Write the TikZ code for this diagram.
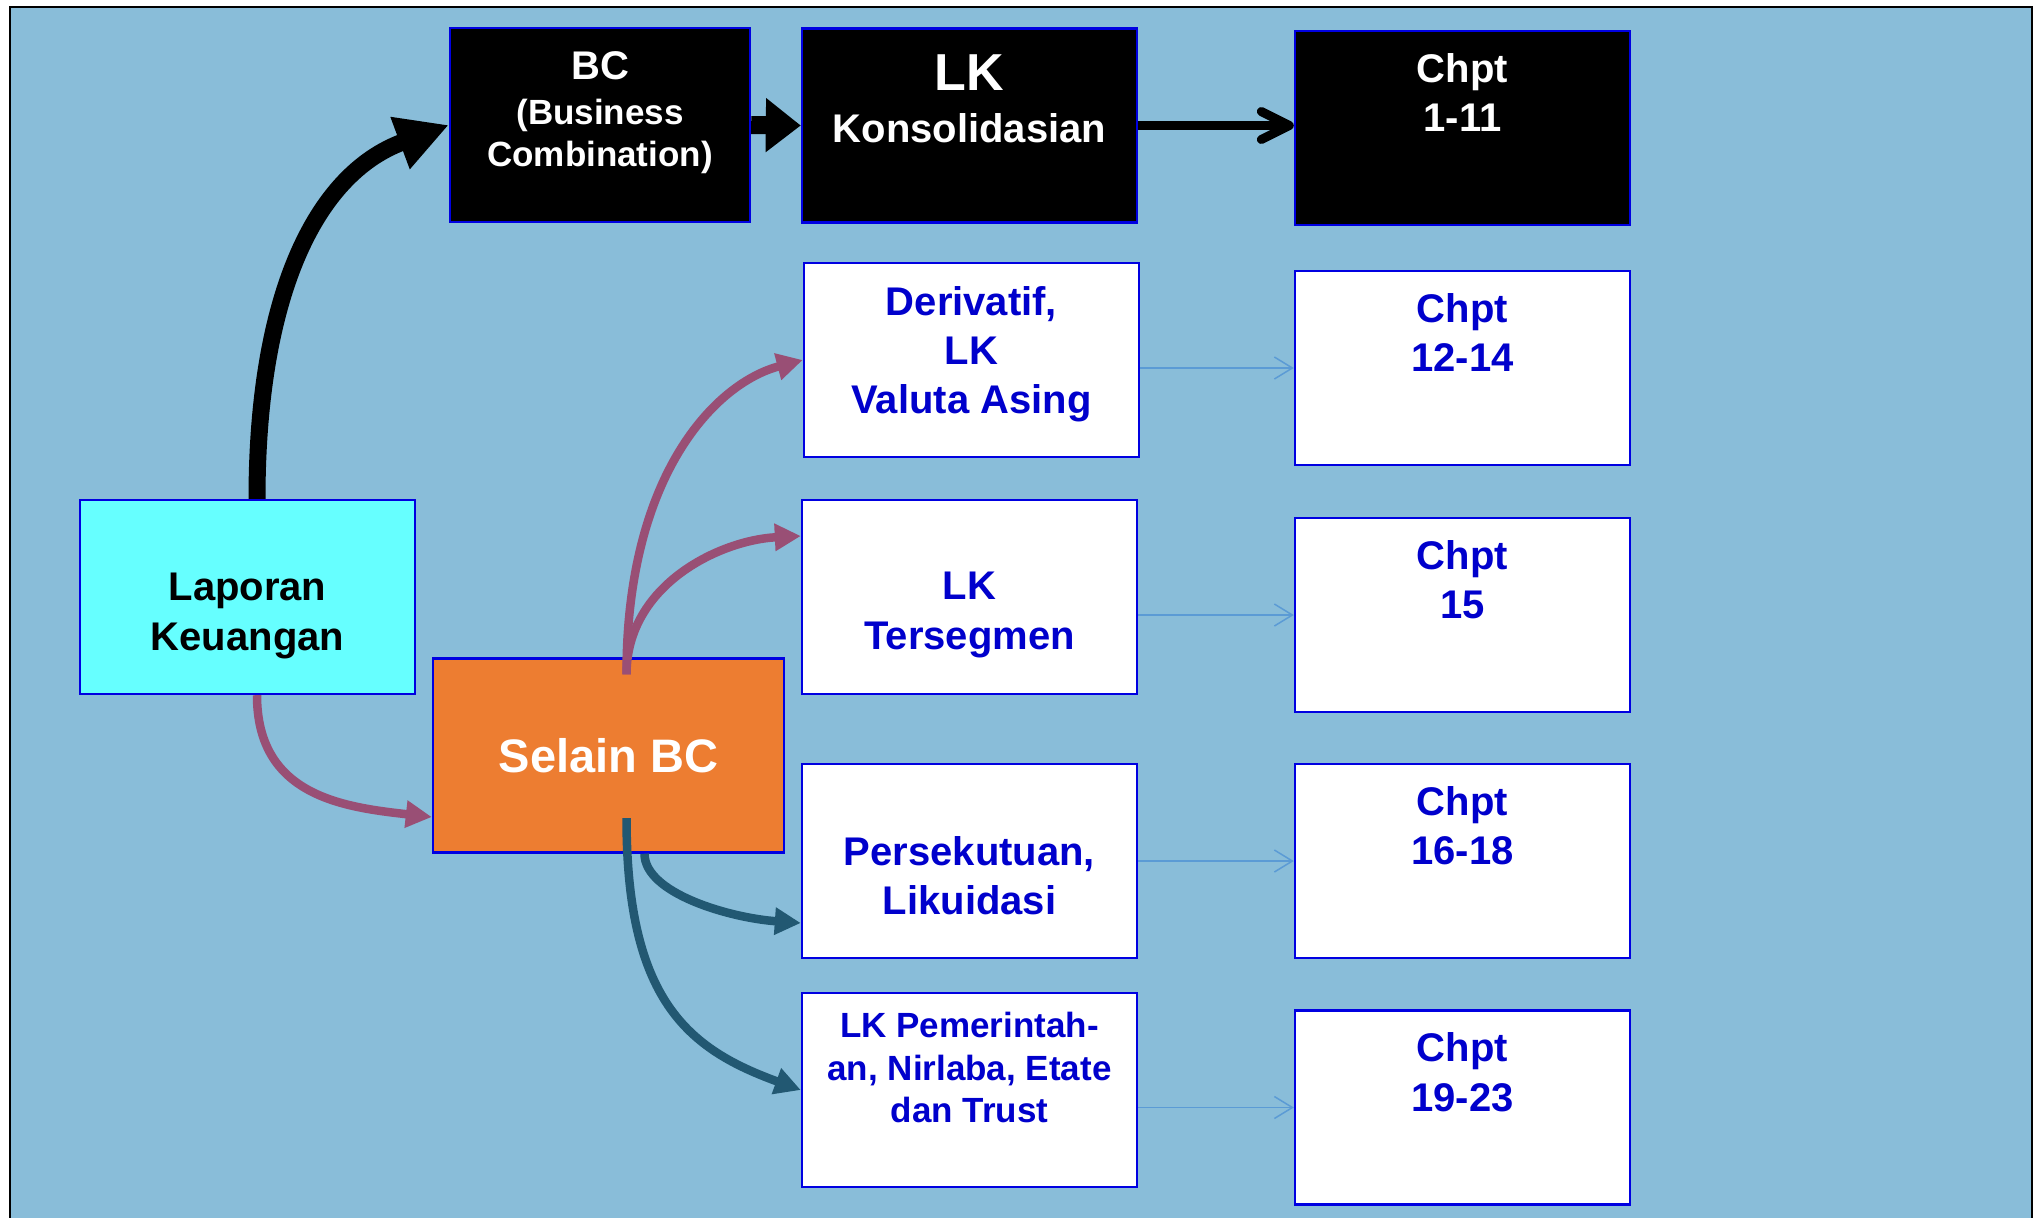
\documentclass[tikz,border=0pt]{standalone}
\usepackage{fontspec}
\setmainfont{Liberation Sans}
\usetikzlibrary{arrows.meta}
\definecolor{bgblue}{RGB}{137,189,217}
\definecolor{edgeblue}{RGB}{0,0,225}
\definecolor{txtblue}{RGB}{0,0,204}
\definecolor{cyanfill}{RGB}{102,255,255}
\definecolor{orangefill}{RGB}{237,125,49}
\definecolor{mauve}{RGB}{153,79,117}
\definecolor{tealline}{RGB}{34,88,114}
\definecolor{thinblue}{RGB}{91,155,213}
\tikzset{
        box/.style={draw=edgeblue, line width=1.2pt, minimum width=167.5pt, minimum height=97pt, inner sep=0pt},
        darkbox/.style={box, fill=black},
        whitebox/.style={box, fill=white},
        txt/.style={anchor=north, inner sep=0pt, align=center, font=\bfseries\fontsize{20}{24.7}\selectfont},
        whitetxt/.style={txt, text=white},
        bluetxt/.style={txt, text=txtblue},
        bigarr/.style={line width=8.5pt, -{Triangle[length=26pt,width=26pt]}},
        flatarr/.style={line width=9pt, -{Triangle[length=17.5pt,width=26pt]}},
        barbarr/.style={line width=4.5pt, -{Straight Barb[length=14pt,width=14pt,round]}},
        thinarr/.style={draw=thinblue, line width=0.75pt, -{Straight Barb[length=9pt,width=11pt]}},
        pinkarr/.style={draw=mauve, line width=4.25pt, -{Triangle[length=13pt,width=13pt]}},
        tealarr/.style={draw=tealline, line width=4.25pt, -{Triangle[length=13pt,width=13pt]}}
          }
\begin{document}
\begin{tikzpicture}[x=0.5pt, y=-0.5pt]
        \useasboundingbox (0,0) rectangle (2038,1217);
        \clip (0,0) rectangle (2038,1217);
        \draw[line width=1pt, fill=bgblue] (10,7) rectangle (2032,1240);

        % boxes
        \node[darkbox, minimum width=150pt] (bc) at (600,125) {};
        \node[darkbox] (lk) at (969.5,125.5) {};
        \node[darkbox] (c1) at (1462.5,128) {};
        \node[whitebox] (dv) at (971.5,360) {};
        \node[whitebox] (c2) at (1462.5,368) {};
        \node[whitebox] (sg) at (969.5,597) {};
        \node[whitebox] (c3) at (1462.5,615) {};
        \node[whitebox] (ps) at (969.5,861) {};
        \node[whitebox] (c4) at (1462.5,861) {};
        \node[whitebox] (pm) at (969.5,1090) {};
        \node[whitebox] (c5) at (1462.5,1107.5) {};
        \node[box, fill=cyanfill] (lap) at (247.5,597) {};
        \node[box, fill=orangefill, minimum width=175.5pt] (sel) at (608.5,755.5) {};

        % texts
        \node[whitetxt, font=\bfseries\fontsize{17.5}{21}\selectfont] (bct) at ([yshift=-12pt]bc.north)
          {{\fontsize{20}{24}\selectfont BC}\\[1.5pt] (Business\\Combination)};
        \node[whitetxt, font=\bfseries\fontsize{20}{26}\selectfont] (lkt) at ([yshift=-13.3pt]lk.north)
          {{\fontsize{26}{30}\selectfont LK}\\Konsolidasian};
        \node[whitetxt] (c1t) at ([yshift=-11.5pt]c1.north) {Chpt\\1-11};
        \node[bluetxt] (dvt) at ([yshift=-12pt]dv.north) {Derivatif,\\LK\\Valuta Asing};
        \node[bluetxt] (c2t) at ([yshift=-11.5pt]c2.north) {Chpt\\12-14};
        \node[bluetxt] (sgt) at ([yshift=-36.5pt]sg.north) {LK\\Tersegmen};
        \node[bluetxt] (c3t) at ([yshift=-11.5pt]c3.north) {Chpt\\15};
        \node[bluetxt] (pst) at ([yshift=-36.5pt]ps.north) {Persekutuan,\\Likuidasi};
        \node[bluetxt] (c4t) at ([yshift=-11.5pt]c4.north) {Chpt\\16-18};
        \node[bluetxt, font=\bfseries\fontsize{17.5}{21.25}\selectfont] (pmt) at ([yshift=-10pt]pm.north)
          {LK Pemerintah-\\an, Nirlaba, Etate\\dan Trust};
        \node[bluetxt] (c5t) at ([yshift=-11.5pt]c5.north) {Chpt\\19-23};
        \node[txt] (lapt) at ([yshift=-37pt]lap.north) {Laporan\\Keuangan};
        \node[whitetxt, font=\bfseries\fontsize{23.5}{28}\selectfont] (selt) at ([yshift=-40.2pt]sel.north) {Selain BC};

        % connectors
        \draw[bigarr] ([xshift=4.75pt]lap.north) .. controls +(0,-200) and +(-135,50) .. (bc.west);
        \draw[flatarr] (bc.east) -- (lk.west);
        \draw[barbarr] (lk.east) -- (lk.east -| c1.west);
        \foreach \a/\b in {dv/c2, sg/c3, ps/c4, pm/c5}
          \draw[thinarr] (\a.east |- \b) -- (\b.west);
        \draw[pinkarr] ([xshift=4.75pt]lap.south) .. controls +(0,100) and +(-90,-10) .. ([yshift=-30.75pt]sel.west);
        \draw[pinkarr] ([xshift=9pt,yshift=-8.5pt]sel.north) .. controls +(0,-200) and +(-87,23) .. (dv.west);
        \draw[pinkarr] ([xshift=9pt,yshift=-8.5pt]sel.north) .. controls +(0,-90) and +(-80,4) .. ([yshift=30.5pt]sg.west);
        \draw[tealarr] ([xshift=9pt,yshift=-31.25pt]sel.center) .. controls +(0,182) and +(-113,-41) .. (pm.west);
        \draw[tealarr] ([xshift=18pt]sel.south) .. controls +(0,40) and +(-70,-5) .. ([yshift=-31pt]ps.west);
\end{tikzpicture}
\end{document}
